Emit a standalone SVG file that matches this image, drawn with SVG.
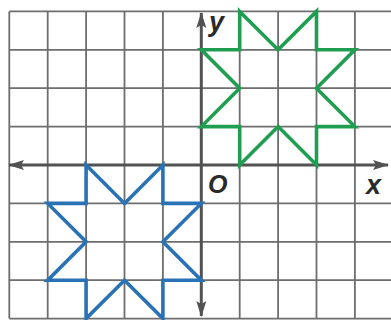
<svg xmlns="http://www.w3.org/2000/svg" width="391" height="320" viewBox="0 0 391 320">
<style>
.grid{stroke:#6e6e6e;stroke-width:1.8;fill:none}
.axis{stroke:#525252;stroke-width:3;fill:none}
.star{fill:none;stroke-width:3.6;stroke-linejoin:miter;stroke-miterlimit:10}
.lbl{font-family:"Liberation Sans",Arial,sans-serif;font-weight:bold;font-style:italic;fill:#2a2a2a}
</style>
<defs>
<marker id="ah" viewBox="0 0 16 10" refX="15" refY="5" markerWidth="16" markerHeight="10" markerUnits="userSpaceOnUse" orient="auto-start-reverse">
<path d="M0,0 L16,5 L0,10 L3,5 z" fill="#525252"/>
</marker>
</defs>
<rect width="391" height="320" fill="#fff"/>
<g id="grid" class="grid">
<path d="M9.3,11.4V318.6M47.7,11.4V318.6M86.1,11.4V318.6M124.5,11.4V318.6M162.9,11.4V318.6M239.7,11.4V318.6M278.1,11.4V318.6M316.5,11.4V318.6M354.9,11.4V318.6"/>
<path d="M9.3,11.4H391M9.3,49.8H391M9.3,88.2H391M9.3,126.6H391M9.3,203.4H391M9.3,241.8H391M9.3,280.2H391M9.3,318.6H391"/>
</g>
<g id="axes">
<line class="axis" x1="9" y1="165" x2="388" y2="165" marker-start="url(#ah)" marker-end="url(#ah)"/>
<line class="axis" x1="201.3" y1="13" x2="201.3" y2="316" marker-start="url(#ah)" marker-end="url(#ah)"/>
</g>
<g id="green-star">
<path class="star" stroke="#1f9e52" d="M239.7,11.4L278.1,49.8L316.5,11.4L316.5,49.8L354.9,49.8L316.5,88.2L354.9,126.6L316.5,126.6L316.5,165L278.1,126.6L239.7,165L239.7,126.6L201.3,126.6L239.7,88.2L201.3,49.8L239.7,49.8Z"/>
</g>
<g id="blue-star">
<path class="star" stroke="#2a72b6" d="M86.1,165L124.5,203.4L162.9,165L162.9,203.4L201.3,203.4L162.9,241.8L201.3,280.2L162.9,280.2L162.9,318.6L124.5,280.2L86.1,318.6L86.1,280.2L47.7,280.2L86.1,241.8L47.7,203.4L86.1,203.4Z"/>
</g>
<g id="labels">
<text class="lbl" x="209" y="31" font-size="27">y</text>
<text class="lbl" x="208" y="193" font-size="25">O</text>
<text class="lbl" x="366" y="194" font-size="27">x</text>
</g>
</svg>
